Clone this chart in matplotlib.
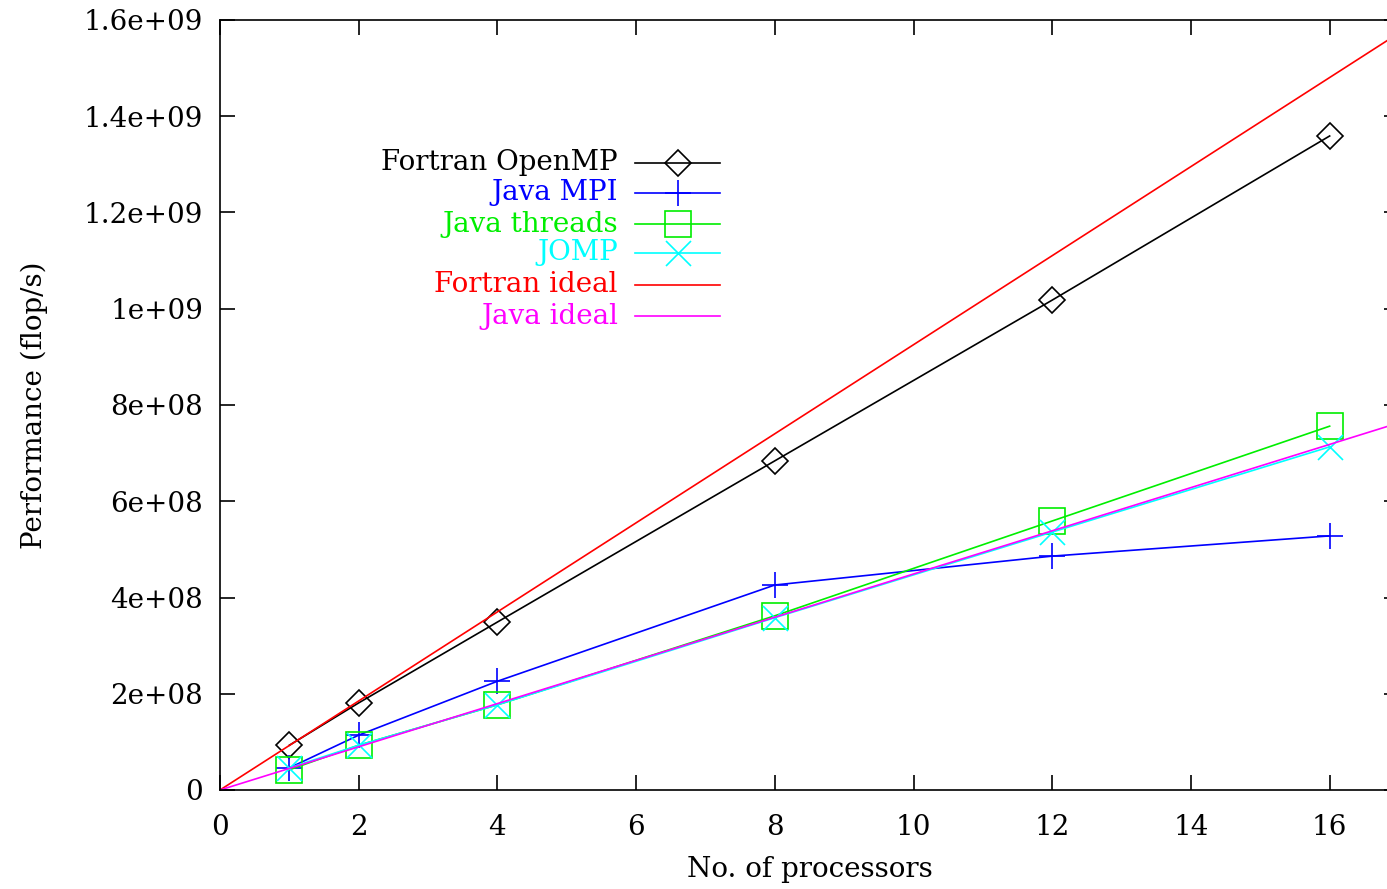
import numpy as np
import matplotlib
matplotlib.use('Agg')
import matplotlib.pyplot as plt
from matplotlib.lines import Line2D

plt.rcParams['font.family'] = 'DejaVu Serif'
plt.rcParams['font.size'] = 20

procs = [1, 2, 4, 8, 12, 16]
fortran_openmp = [0.93e8, 1.81e8, 3.49e8, 6.84e8, 1.018e9, 1.359e9]
java_mpi = [0.46e8, 1.14e8, 2.26e8, 4.26e8, 4.86e8, 5.28e8]
java_threads = [0.42e8, 0.93e8, 1.77e8, 3.62e8, 5.59e8, 7.56e8]
jomp = [0.46e8, 0.93e8, 1.77e8, 3.58e8, 5.36e8, 7.13e8]

ideal_procs = [0, 17]
fortran_ideal = [0, 1.573e9]
java_ideal = [0, 7.63e8]

labels = ['Fortran OpenMP', 'Java MPI', 'Java threads', 'JOMP', 'Fortran ideal', 'Java ideal']
colors = ['black', '#0000ff', '#00ee00', '#00ffff', '#ff0000', '#ff00ff']
markers = ['D', '+', 's', 'x', None, None]
msizes = [13, 19, 19, 18, 0, 0]

fig = plt.figure(figsize=(13.87, 8.89), dpi=100)
ax = fig.add_axes([220 / 1387, 1 - 790 / 889, 1179 / 1387, 770 / 889])

series = [fortran_openmp, java_mpi, java_threads, jomp]
for i, s in enumerate(series):
    ax.plot(procs, s, color=colors[i], lw=1.2, marker=markers[i], ms=msizes[i],
            mfc='none', mec=colors[i], mew=1.2)
ax.plot(ideal_procs, fortran_ideal, color=colors[4], lw=1.2)
ax.plot(ideal_procs, java_ideal, color=colors[5], lw=1.2)

ax.set_xlim(0, 17)
ax.set_ylim(0, 1.6e9)
ax.set_xticks(np.arange(0, 17, 2))
ax.set_yticks(np.arange(0, 1.61e9, 2e8))
ax.set_yticklabels(['0', '2e+08', '4e+08', '6e+08', '8e+08', '1e+09', '1.2e+09', '1.4e+09', '1.6e+09'])
ax.tick_params(direction='in', length=11, width=1.2, top=True, right=True)
ax.tick_params(axis='x', pad=17)
ax.tick_params(axis='y', pad=12)
for sp in ax.spines.values():
    sp.set_linewidth(1.2)
ax.set_xlabel('No. of processors', labelpad=11)
ax.set_ylabel('Performance (flop/s)', labelpad=26)

# legend drawn by hand: right-aligned coloured text, sample line on the right
leg_y = [163, 193, 224, 253, 285, 316]
for i, lab in enumerate(labels):
    yf = 1 - leg_y[i] / 889
    fig.text(618 / 1387, yf, lab, color=colors[i], ha='right', va='center')
    fig.add_artist(Line2D([635 / 1387, 720 / 1387], [yf, yf], color=colors[i], lw=1.2,
                          transform=fig.transFigure))
    if markers[i] is not None:
        fig.add_artist(Line2D([678 / 1387], [yf], color=colors[i], marker=markers[i],
                              ms=msizes[i], mfc='none', mew=1.2, transform=fig.transFigure))

fig.savefig('out.png', dpi=100)
